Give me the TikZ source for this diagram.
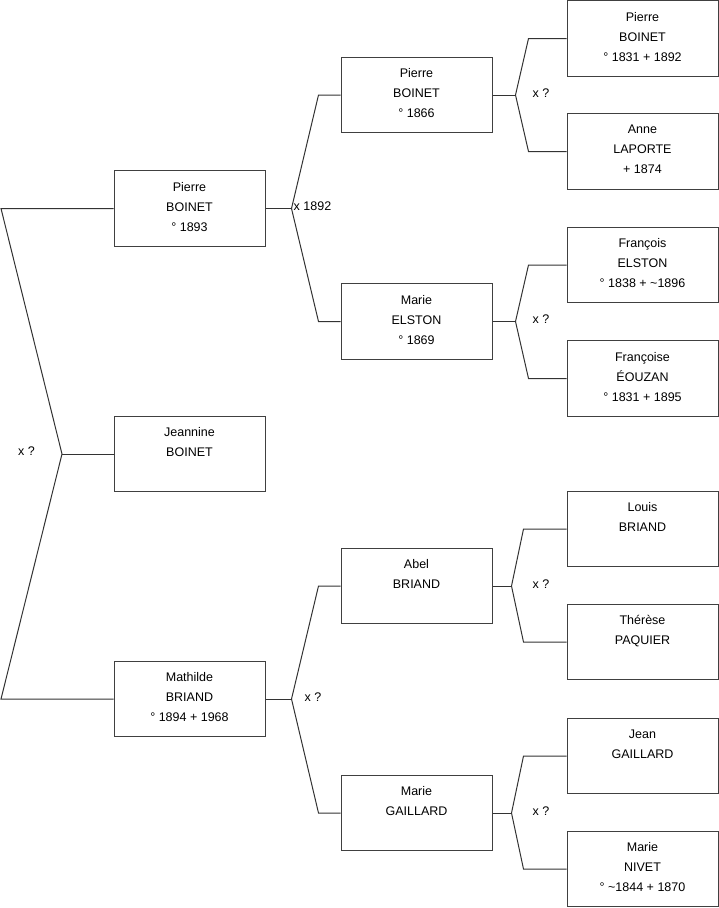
\documentclass[tikz,border=0pt]{standalone}
\usepackage{fontspec}
\setmainfont{Liberation Sans}
\tikzset{
  person/.style={draw=black!75, line width=1pt, minimum width=151pt, minimum height=75.5pt,
    align=center, inner sep=0pt, font=\fontsize{12.5}{20}\selectfont,
    execute at end node={\rule[-4pt]{0pt}{0pt}}},
  link/.style={draw=black!80, line width=1pt},
  union/.style={anchor=west, inner sep=0pt, font=\fontsize{12.5}{14}\selectfont}
}
\begin{document}
\begin{tikzpicture}[x=1pt,y=-1pt]
  \useasboundingbox (0,0) rectangle (719,908);
  % generation 1
  \node[person] (pierre)   at (189.5,208.5) {Pierre\\BOINET\\° 1893};
  \node[person] (jeannine) at (189.5,454)   {Jeannine\\BOINET\\\mbox{}};
  \node[person] (mathilde) at (189.5,699)   {Mathilde\\BRIAND\\° 1894 + 1968};
  % generation 2
  \node[person] (pierreP) at (416.5,95)    {Pierre\\BOINET\\° 1866};
  \node[person] (marieE)  at (416.5,321.5) {Marie\\ELSTON\\° 1869};
  \node[person] (abel)    at (416.5,586)   {Abel\\BRIAND\\\mbox{}};
  \node[person] (marieG)  at (416.5,813)   {Marie\\GAILLARD\\\mbox{}};
  % generation 3
  \node[person] (pierreGP)  at (642.5,38.5)  {Pierre\\BOINET\\° 1831 + 1892};
  \node[person] (anne)      at (642.5,151.5) {Anne\\LAPORTE\\+ 1874};
  \node[person] (francois)  at (642.5,265)   {François\\ELSTON\\° 1838 + \textasciitilde1896};
  \node[person] (francoise) at (642.5,378.5) {Françoise\\ÉOUZAN\\° 1831 + 1895};
  \node[person] (louis)     at (642.5,529)   {Louis\\BRIAND\\\mbox{}};
  \node[person] (therese)   at (642.5,642)   {Thérèse\\PAQUIER\\\mbox{}};
  \node[person] (jean)      at (642.5,756)   {Jean\\GAILLARD\\\mbox{}};
  \node[person] (marieN)    at (642.5,869)   {Marie\\NIVET\\° \textasciitilde1844 + 1870};

  % siblings
  \coordinate (top0) at (1,208.5);
  \coordinate (v0)   at (62,454);
  \coordinate (bot0) at (1,699);
  \draw[link] (pierre.west) -- (top0) -- (v0) -- (bot0) -- (mathilde.west);
  \draw[link] (v0) -- (jeannine.west);
  \node[union] at (18,451) {x ?};

  % parents
  \foreach \kid/\dad/\mum/\v/\c/\t/\lab in {
      pierre/pierreP/marieE/26/22/2/x 1892,
      mathilde/abel/marieG/26/22/13/x ?,
      pierreP/pierreGP/anne/23/38/17/x ?,
      marieE/francois/francoise/23/38/17/x ?,
      abel/louis/therese/19/43/21/x ?,
      marieG/jean/marieN/19/43/21/x ?} {
    \coordinate (v-\kid) at ([xshift=\v pt]\kid.east);
    \draw[link] (\kid.east) -- (v-\kid);
    \draw[link] (v-\kid) -- ([xshift=-\c pt]\dad.west) -- (\dad.west);
    \draw[link] (v-\kid) -- ([xshift=-\c pt]\mum.west) -- (\mum.west);
    \node[union] at ([xshift=\t pt,yshift=2pt]v-\kid) {\lab};
  }
\end{tikzpicture}
\end{document}
